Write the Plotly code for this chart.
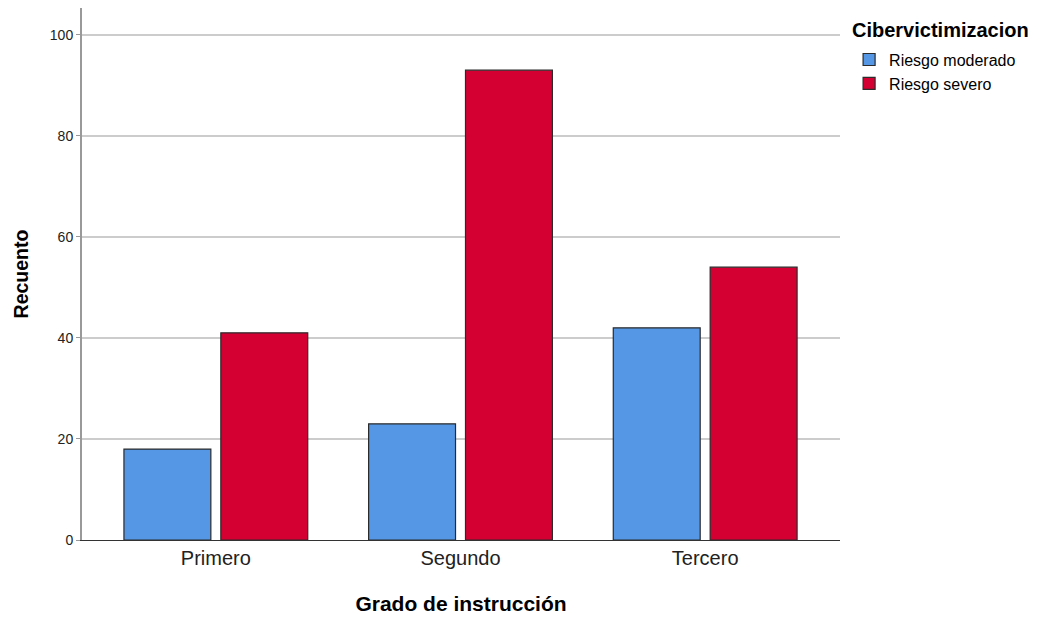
import plotly.graph_objects as go

categories = ["Primero", "Segundo", "Tercero"]
series_names = ["Riesgo moderado", "Riesgo severo"]
moderado = [18, 23, 42]
severo = [41, 93, 54]
y_ticks = [0, 20, 40, 60, 80, 100]
colors = ["#5596E5", "#D50032"]

FONT = "Liberation Sans, Arial, sans-serif"

fig = go.Figure()
for name, vals, col in zip(series_names, [moderado, severo], colors):
    fig.add_trace(go.Bar(
        x=categories, y=vals, name=name,
        marker=dict(color=col, line=dict(color="#2b2b2b", width=1.2)),
    ))

# page body has an 8px margin: compensate
fig.update_layout(
    width=1043, height=619,
    paper_bgcolor="white", plot_bgcolor="white",
    margin=dict(l=74, r=211, t=0, b=87, autoexpand=False),
    barmode="group", bargap=0.208, bargroupgap=0.103,
    font=dict(family=FONT, color="#000000"),
    showlegend=True,
    legend=dict(
        x=1.012, y=0.935, xanchor="left", yanchor="top",
        font=dict(size=16, family=FONT),
        itemwidth=30, tracegroupgap=0, bgcolor="rgba(0,0,0,0)",
    ),
    annotations=[dict(
        text="<b>Cibervictimizacion</b>", x=1.013, y=1.0 - 22 / 532,
        xref="paper", yref="paper", xanchor="left", yanchor="middle",
        showarrow=False, font=dict(size=20, family=FONT, color="#000"),
    )],
)
fig.update_xaxes(
    range=[-0.547, 2.551],
    showline=True, linecolor="#333333", linewidth=1,
    ticks="", tickfont=dict(size=20, family=FONT, color="#222"),
    title=dict(text="<b>Grado de instrucción</b>", font=dict(size=21, family=FONT), standoff=28),
    showgrid=False, zeroline=False,
)
fig.update_yaxes(
    range=[0, 105.3], tickvals=y_ticks, ticktext=[str(v) for v in y_ticks],
    showline=True, linecolor="#999999", linewidth=2,
    ticks="outside", ticklen=4, tickcolor="#999999",
    tickfont=dict(size=14, family=FONT, color="#222"),
    showgrid=True, gridcolor="#CCCCCC", gridwidth=1.5, zeroline=False,
    title=dict(text="<b>Recuento</b>", font=dict(size=19.5, family=FONT), standoff=16),
)

fig.write_html("out.html")
